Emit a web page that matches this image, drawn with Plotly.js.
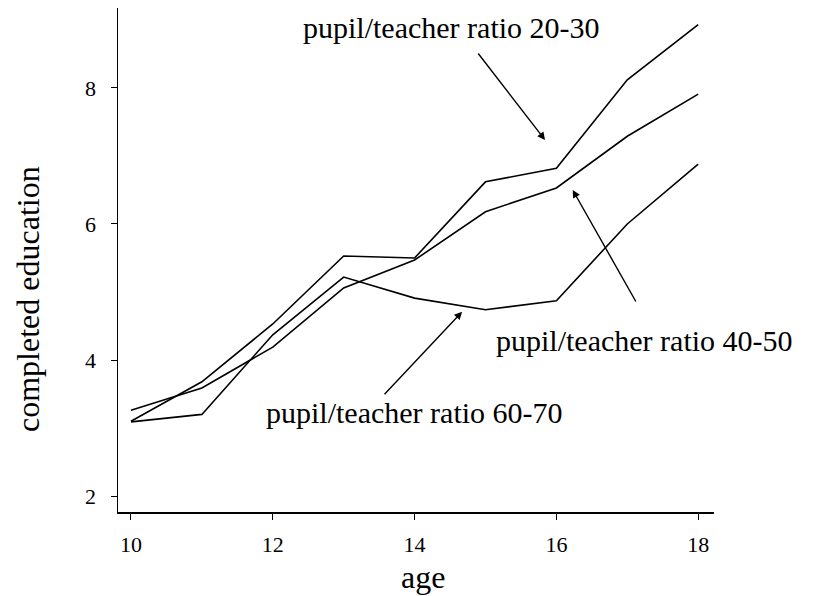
<!DOCTYPE html>
<html>
<head>
<meta charset="utf-8">
<script src="https://cdn.plot.ly/plotly-3.0.1.min.js"></script>
<style>
html,body{margin:0;padding:0;background:#fff;}
#chart{width:814px;height:596px;}
</style>
</head>
<body>
<div id="chart"></div>
<script>
// Data
const ages = [10, 11, 12, 13, 14, 15, 16, 17, 18];
const ratio2030 = [3.10, 3.68, 4.53, 5.53, 5.50, 6.62, 6.82, 8.12, 8.93];
const ratio4050 = [3.26, 3.59, 4.19, 5.06, 5.47, 6.18, 6.53, 7.29, 7.91];
const ratio6070 = [3.09, 3.20, 4.37, 5.22, 4.91, 4.74, 4.87, 6.00, 6.88];
const seriesNames = ["pupil/teacher ratio 20-30", "pupil/teacher ratio 40-50", "pupil/teacher ratio 60-70"];
const xTicks = [10, 12, 14, 16, 18];
const yTicks = [2, 4, 6, 8];
const xTitle = "age";
const yTitle = "completed education";

const lineStyle = {color: "#000", width: 1.6};
const traces = [ratio2030, ratio4050, ratio6070].map((ys, i) => ({
  x: ages, y: ys, type: "scatter", mode: "lines", name: seriesNames[i],
  line: lineStyle, hoverinfo: "skip"
}));

const serif = "Liberation Serif, Times New Roman, serif";

function label(text, x, y, size, angle) {
  return {text: text, xref: "paper", yref: "paper", x: x, y: y,
    xanchor: "center", yanchor: "middle", showarrow: false, textangle: angle || 0,
    font: {family: serif, size: size || 30, color: "#000"}};
}
function arrow(x, y, ax, ay) {
  return {text: "", xref: "x", yref: "y", x: x, y: y, ax: ax, ay: ay,
    showarrow: true, arrowhead: 2, arrowsize: 1.1, arrowwidth: 1.4, arrowcolor: "#000"};
}

const layout = {
  width: 814, height: 596,
  margin: {l: 118, r: 100, t: 8, b: 84},
  paper_bgcolor: "#fff", plot_bgcolor: "#fff",
  showlegend: false,
  font: {family: serif, color: "#000"},
  xaxis: {
    range: [9.817, 18.223], tickvals: xTicks, ticktext: xTicks.map(String),
    showline: true, linecolor: "#000", linewidth: 1.5, mirror: false,
    ticks: "outside", ticklen: 6, tickwidth: 1, tickcolor: "#000",
    showgrid: false, zeroline: false,
    tickfont: {family: serif, size: 22, color: "#000"},
    ticklabelstandoff: 6
  },
  yaxis: {
    range: [1.765, 9.176], tickvals: yTicks, ticktext: yTicks.map(String),
    showline: true, linecolor: "#000", linewidth: 1.5, mirror: false,
    ticks: "outside", ticklen: 6, tickwidth: 1, tickcolor: "#000",
    showgrid: false, zeroline: false,
    tickfont: {family: serif, size: 22, color: "#000"},
    ticklabelstandoff: 10
  },
  annotations: [
    label(seriesNames[0], 0.5604, 0.9623),
    label(seriesNames[1], 0.8842, 0.3403),
    label(seriesNames[2], 0.4983, 0.1984),
    label(xTitle, 0.512, -0.129, 32),
    label(yTitle, -0.151, 0.4226, 32, -90),
    arrow(15.84, 7.235, -68, -88),
    arrow(16.23, 6.50, 64, 113),
    arrow(14.67, 4.71, -79, 84)
  ]
};

Plotly.newPlot("chart", traces, layout, {displayModeBar: false, staticPlot: true});
</script>
</body>
</html>
